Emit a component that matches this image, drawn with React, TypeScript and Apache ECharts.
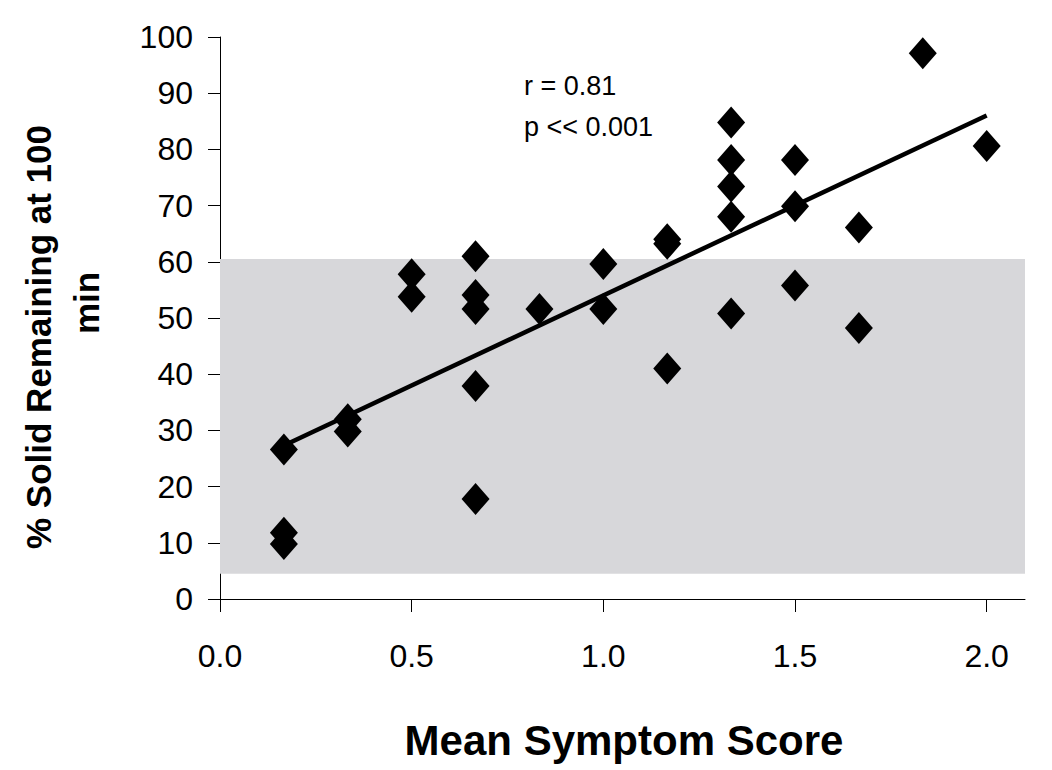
import React, { useEffect, useRef } from "react";
import * as echarts from "echarts";

// Mean symptom score (x) and % solid remaining at 100 min (y)
const xValues: number[] = [
  1 / 6, 1 / 6, 1 / 6,
  1 / 3, 1 / 3,
  0.5, 0.5,
  2 / 3, 2 / 3, 2 / 3, 2 / 3, 2 / 3,
  5 / 6,
  1.0, 1.0,
  7 / 6, 7 / 6, 7 / 6,
  4 / 3, 4 / 3, 4 / 3, 4 / 3, 4 / 3,
  1.5, 1.5, 1.5,
  5 / 3, 5 / 3,
  11 / 6,
  2.0,
];
const yValues: number[] = [
  26.6, 11.8, 9.8,
  32.0, 29.8,
  57.8, 53.8,
  61.0, 54.1, 51.6, 37.9, 17.8,
  51.6,
  59.6, 51.6,
  64.0, 63.2, 41.0,
  84.8, 78.1, 73.4, 68.0, 50.8,
  78.1, 69.9, 55.8,
  66.1, 48.2,
  97.1,
  80.6,
];

// Shaded normal range (% solid remaining)
const normalRange: number[] = [4.5, 60.5];

const xTicks: number[] = [0, 0.5, 1.0, 1.5, 2.0];
const annotationLines: string[] = ["r = 0.81", "p << 0.001"];
const xTitle = "Mean Symptom Score";
const yTitleLines: string[] = ["% Solid Remaining at 100", "min"];

function linearFit(xs: number[], ys: number[]) {
  const n = xs.length;
  const mx = xs.reduce((a, b) => a + b, 0) / n;
  const my = ys.reduce((a, b) => a + b, 0) / n;
  let sxy = 0;
  let sxx = 0;
  for (let i = 0; i < n; i++) {
    sxy += (xs[i] - mx) * (ys[i] - my);
    sxx += (xs[i] - mx) * (xs[i] - mx);
  }
  const slope = sxy / sxx;
  return { slope, intercept: my - slope * mx };
}

const FONT = "Arial, 'Liberation Sans', Helvetica, sans-serif";

export default function App() {
  const ref = useRef<HTMLDivElement>(null);

  useEffect(() => {
    if (!ref.current) return;
    const chart = echarts.init(ref.current, null, { renderer: "svg" });

    const points = xValues.map((x, i) => [x, yValues[i]]);
    const fit = linearFit(xValues, yValues);
    const xMin = Math.min(...xValues);
    const xMax = Math.max(...xValues);
    const trend = [
      [xMin, fit.intercept + fit.slope * xMin],
      [xMax, fit.intercept + fit.slope * xMax],
    ];

    chart.setOption({
      animation: false,
      backgroundColor: "#ffffff",
      grid: { left: 220, right: 27, top: 37, bottom: 171, containLabel: false },
      xAxis: {
        type: "value",
        min: 0,
        max: 2.1,
        interval: 0.5,
        splitLine: { show: false },
        axisLine: { show: true, onZero: false, lineStyle: { color: "#000", width: 1 } },
        axisTick: {
          show: true,
          inside: false,
          length: 13,
          customValues: xTicks,
          lineStyle: { color: "#000", width: 1 },
        },
        axisLabel: {
          customValues: xTicks,
          formatter: (v: number) => v.toFixed(1),
          color: "#000",
          fontFamily: FONT,
          fontSize: 32,
          margin: 41,
        },
      },
      yAxis: {
        type: "value",
        min: 0,
        max: 100,
        interval: 10,
        splitLine: { show: false },
        axisLine: { show: true, onZero: false, lineStyle: { color: "#000", width: 1 } },
        axisTick: { show: true, inside: false, length: 12, lineStyle: { color: "#000", width: 1 } },
        axisLabel: {
          color: "#000",
          fontFamily: FONT,
          fontSize: 32,
          margin: 27,
        },
      },
      series: [
        {
          name: "band",
          type: "line",
          data: [],
          silent: true,
          z: 1,
          markArea: {
            silent: true,
            itemStyle: { color: "#d7d7da" },
            data: [[{ yAxis: normalRange[0] }, { yAxis: normalRange[1] }]],
          },
        },
        {
          name: "trend",
          type: "line",
          data: trend,
          showSymbol: false,
          symbol: "none",
          lineStyle: { color: "#000", width: 4.5 },
          z: 3,
        },
        {
          name: "data",
          type: "scatter",
          data: points,
          symbol: "diamond",
          symbolSize: [28, 32],
          itemStyle: { color: "#000", opacity: 1 },
          z: 4,
        },
      ],
      graphic: [
        {
          type: "text",
          left: 524,
          top: 72,
          style: {
            text: annotationLines[0],
            fontFamily: FONT,
            fontSize: 27,
            fill: "#000",
          },
        },
        {
          type: "text",
          left: 524,
          top: 113,
          style: {
            text: annotationLines[1],
            fontFamily: FONT,
            fontSize: 27,
            fill: "#000",
          },
        },
        {
          type: "text",
          x: 624,
          y: 740,
          style: {
            text: xTitle,
            fontFamily: FONT,
            fontWeight: "bold",
            fontSize: 42,
            fill: "#000",
            align: "center",
            verticalAlign: "middle",
          },
        },
        {
          type: "text",
          x: 38,
          y: 337,
          rotation: Math.PI / 2,
          style: {
            text: yTitleLines[0],
            fontFamily: FONT,
            fontWeight: "bold",
            fontSize: 35,
            fill: "#000",
            align: "center",
            verticalAlign: "middle",
          },
        },
        {
          type: "text",
          x: 86,
          y: 303,
          rotation: Math.PI / 2,
          style: {
            text: yTitleLines[1],
            fontFamily: FONT,
            fontWeight: "bold",
            fontSize: 35,
            fill: "#000",
            align: "center",
            verticalAlign: "middle",
          },
        },
      ],
    });

    return () => chart.dispose();
  }, []);

  return (
    <div
      ref={ref}
      style={{ position: "fixed", left: 0, top: 0, width: 1052, height: 770, background: "#fff" }}
    />
  );
}
